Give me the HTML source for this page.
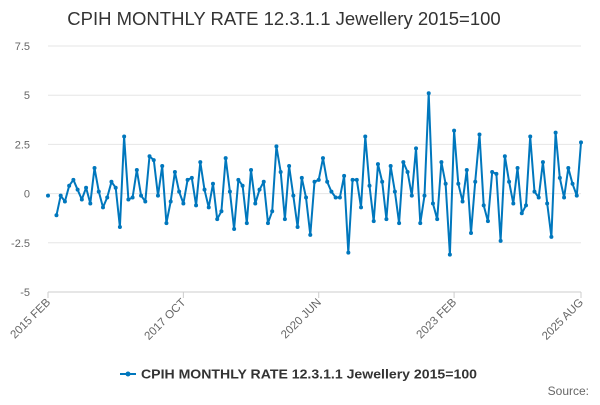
<!DOCTYPE html>
<html><head><meta charset="utf-8"><style>
body{margin:0;background:#fff;font-family:"Liberation Sans",sans-serif}
svg text{font-family:"Liberation Sans",sans-serif}
</style></head><body>
<svg width="600" height="400" id="c">
<text x="284" y="25" text-anchor="middle" font-size="18.5" fill="#333">CPIH MONTHLY RATE 12.3.1.1 Jewellery 2015=100</text>
<g id="grid"></g><g id="xl"></g><g id="series"></g>
<g>
<line x1="120" y1="374" x2="136" y2="374" stroke="#0077bd" stroke-width="2"/>
<circle cx="128" cy="374" r="2.5" fill="#0077bd"/>
<text x="141" y="378.5" font-size="13" font-weight="bold" fill="#333" textLength="336" lengthAdjust="spacingAndGlyphs">CPIH MONTHLY RATE 12.3.1.1 Jewellery 2015=100</text>
</g>
<text x="589" y="395" text-anchor="end" font-size="12" fill="#666">Source:</text>
</svg>
<script>
const values=[-0.1,null,-1.1,-0.1,-0.4,0.4,0.7,0.2,-0.3,0.3,-0.5,1.3,0.1,-0.7,-0.2,0.6,0.3,-1.7,2.9,-0.3,-0.2,1.2,-0.1,-0.4,1.9,1.7,-0.1,1.4,-1.5,-0.4,1.1,0.1,-0.5,0.7,0.8,-0.6,1.6,0.2,-0.7,0.5,-1.3,-0.9,1.8,0.1,-1.8,0.7,0.4,-1.5,1.2,-0.5,0.2,0.6,-1.5,-0.9,2.4,1.1,-1.3,1.4,-0.1,-1.7,0.8,-0.2,-2.1,0.6,0.7,1.8,0.6,0.1,-0.2,-0.2,0.9,-3.0,0.7,0.7,-0.7,2.9,0.4,-1.4,1.5,0.6,-1.3,1.4,0.1,-1.5,1.6,1.1,-0.1,2.3,-1.5,-0.1,5.1,-0.5,-1.3,1.6,0.5,-3.1,3.2,0.5,-0.4,1.2,-2.0,0.6,3.0,-0.6,-1.4,1.1,1.0,-2.4,1.9,0.6,-0.5,1.3,-1.0,-0.6,2.9,0.1,-0.2,1.6,-0.5,-2.2,3.1,0.8,-0.2,1.3,0.5,-0.1,2.6];
const yTicks=[7.5,5,2.5,0,-2.5,-5];
const yTickLabels=["7.5","5","2.5","0","-2.5","-5"];
const xTickIdx=[0,32,64,96,126];
const xTickLabels=["2015 FEB","2017 OCT","2020 JUN","2023 FEB","2025 AUG"];
const NS="http://www.w3.org/2000/svg";
const x0=48,x1=581,yTop=46,yBot=292;
const X=i=>x0+(x1-x0)*i/(values.length-1);
const Y=v=>yTop+(7.5-v)/12.5*(yBot-yTop);
function mk(t,a,p){const e=document.createElementNS(NS,t);for(const k in a)e.setAttribute(k,a[k]);p.appendChild(e);return e;}
const g=document.getElementById('grid');
yTicks.forEach((v,i)=>{
 const l=mk('line',{x1:x0,x2:x1,y1:Y(v),y2:Y(v),stroke:v===-5?'#ccc':'#e6e6e6','stroke-width':1},g);
 
 
 const t=mk('text',{x:30,y:Y(v)+4,'text-anchor':'end','font-size':11,fill:'#666'},g);
 
 
 t.textContent=yTickLabels[i];
});
const xl=document.getElementById('xl');
xTickIdx.forEach((idx,i)=>{
 const x=X(idx);
 const tk=mk('line',{x1:x,x2:x,y1:yBot,y2:yBot+6,stroke:'#ccc'},xl);
 
 
 const t=mk('text',{x:x+3,y:yBot+11,'text-anchor':'end','font-size':11.5,fill:'#666',transform:`rotate(-45 ${x+3} ${yBot+11})`},xl);
 
 
 t.textContent=xTickLabels[i];
});
const s=document.getElementById('series');
let d='',pen=false;
values.forEach((v,i)=>{if(v===null){pen=false;return;}d+=(pen?'L':'M')+X(i).toFixed(1)+' '+Y(v).toFixed(1);pen=true;});
const p=mk('path',{d:d,fill:'none',stroke:'#0077bd','stroke-width':2,'stroke-linejoin':'round'},s);


values.forEach((v,i)=>{if(v===null)return;
 const c=mk('circle',{cx:X(i),cy:Y(v),r:2,fill:'#0077bd'},s);
 
 
});
</script>
</body></html>
